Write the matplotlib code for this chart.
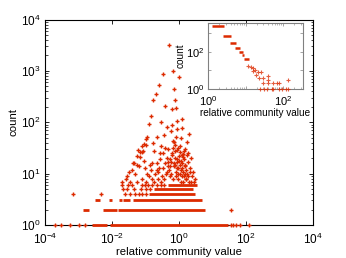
import numpy as np
import matplotlib
matplotlib.use('Agg')
import matplotlib.pyplot as plt
from matplotlib.ticker import LogLocator, NullLocator, FixedLocator

plt.rcParams['font.family'] = ['Liberation Sans', 'DejaVu Sans']
plt.rcParams['mathtext.fontset'] = 'custom'
plt.rcParams['mathtext.rm'] = 'Liberation Sans'
plt.rcParams['mathtext.it'] = 'Liberation Sans:italic'
plt.rcParams['mathtext.bf'] = 'Liberation Sans:bold'

RED = '#dc2a00'

# ---- main plot: scattered points (log10 of relative community value, count)
pts_logx = [-0.30, -0.47, -0.18, 0.00, -0.61, -0.14, -0.70, -0.78, -0.11, -0.41, -0.22, -0.09,
            -0.845, -0.90, -0.55, -0.37, -0.22, -0.07, 0.09, -0.25, -0.06, 0.10, 0.30, -0.96,
            -0.99, -0.44, -0.08, 0.07, -0.15, 0.23, -1.05, -1.11, -0.53, -0.19, 0.04, -1.17,
            -1.10, -0.75, -0.33, -0.05, 0.18, -1.24, -0.47, -0.22, 0.08, 0.25, -1.05, -0.57,
            -0.28, -1.34, -1.19, -0.87, -0.67, -0.42,
            -0.36, -0.30, -0.25, -0.20, -0.15, -0.12, -0.08, -0.05, -0.02, 0.00, 0.02, 0.04,
            0.06, 0.08, 0.10, 0.12, 0.14, 0.16, 0.18, 0.20, 0.24, 0.28, 0.33, 0.38, 0.42, 0.47,
            -0.10, -0.04, 0.05, 0.12, 0.22, 0.30, 0.36, 0.46, -0.40, -0.28, -0.18, 0.15, 0.27,
            -0.02, 0.03, -0.13, 0.37, -0.17, -0.12,
            -1.56, -1.41, -1.36, -1.26, -1.16, -1.07, -1.21, -0.99, -0.67, -0.77, -0.57, -0.42,
            -0.32, -0.82, -0.67, -0.52, -0.96, -1.26, -0.82, -0.37, -1.70, -1.58, -1.45, -1.12,
            -1.00, -0.90, -0.75, -0.62, -0.55, -0.45, -1.30, -1.50, -0.72, -0.60,
            -0.26, -0.16, -0.07, 0.01, 0.07, 0.13, 0.19, 0.26, 0.32, -0.33, -0.23, -0.11,
            -0.03, 0.09, 0.17, 0.21, -0.06, 0.11, -0.48, -0.64, -0.85, -1.02]
pts_count = [3150, 870, 1000, 760, 530, 455, 350, 270, 275, 205, 178, 190,
             130, 92, 100, 81, 89, 107, 115, 68, 74, 78, 59, 51,
             47, 56, 51, 49, 42, 42, 38, 35, 35, 32, 35, 26,
             26, 28, 30, 29, 30, 22, 25, 23, 23, 23, 18, 19,
             19, 16, 14, 15, 16, 16,
             20, 12, 17, 25, 14, 20, 11, 17, 13, 22, 15, 10,
             18, 13, 16, 11, 19, 9, 14, 12, 10, 17, 13, 9, 11, 8,
             9, 8, 7, 7, 8, 7, 7, 7, 10, 9, 8, 27, 25,
             32, 26, 28, 20, 44, 36,
             9, 12, 16, 15, 21, 27, 29, 36, 52, 39, 25, 31,
             17, 16, 12, 9, 10, 7, 8, 11, 7, 8, 7, 8,
             7, 9, 7, 8, 7, 8, 10, 11, 10, 13,
             14, 16, 13, 18, 12, 21, 15, 9, 11, 14, 10, 15,
             10, 9, 10, 8, 19, 24, 13, 11, 12, 13]

# low counts: isolated points
low_logx = [-3.70, -3.53, -3.25, -2.98, -2.81, 1.55, 1.62, 1.70, 1.82, 2.09,
            1.55,
            -3.15, -2.34, -1.61, -1.45, -1.30, -1.20, -1.10, -1.00,
            -1.68, -1.55, -1.35, -1.15, -1.00, -0.88,
            -1.70, -1.52, -1.41, -1.11, -1.01, -0.93, -0.80, -0.66, -0.55, -0.45]
low_count = [1, 1, 1, 1, 1, 1, 1, 1, 1, 1,
             2,
             4, 4, 4, 4, 4, 4, 4, 4,
             5, 5, 5, 5, 5, 5,
             6, 6, 6, 6, 6, 6, 6, 6, 6, 6]

# low counts: runs of points packed so close they form a bar
band_count = [1, 1, 2, 2, 2, 3, 3, 3, 3, 3, 4, 5, 6]
band_start = [-2.61, -2.05, -2.86, -2.27, -1.82, -2.51, -2.09, -1.78, -1.67, -1.37, -0.90, -0.75, -0.33]
band_end = [-2.16, 1.46, -2.68, -1.86, 0.78, -2.36, -2.00, -1.70, -1.46, 0.68, 0.48, 0.42, 0.54]

# ---- inset
in_band_count = [2630, 710, 310, 160, 100, 72, 40]
in_band_start = [0.10, 0.39, 0.59, 0.72, 0.83, 0.90, 0.97]
in_band_end = [0.43, 0.61, 0.74, 0.85, 0.92, 0.97, 1.09]
in_logx = [1.07, 1.14, 1.21, 1.25, 1.19, 1.32, 1.40, 1.27, 1.36, 1.47, 1.59, 1.61,
           1.59, 1.47, 1.74, 1.83, 1.89, 2.12,
           1.39, 1.48, 1.56, 1.70, 1.74, 1.88, 1.98, 2.07, 2.12]
in_count = [18, 15, 13, 11, 9, 8, 8, 6, 4, 4, 5, 3,
            2, 2, 2, 2, 2, 3,
            1, 1, 1, 1, 1, 1, 1, 1, 1]


def tenpow(v):
    return [r'$10^{%d}$' % int(round(np.log10(t))) for t in v]


fig = plt.figure(figsize=(3.46, 2.58), dpi=100)
ax = fig.add_axes([0.130, 0.128, 0.775, 0.796])

ax.hlines(band_count, 10 ** np.array(band_start), 10 ** np.array(band_end),
          colors=RED, linewidth=2.0, clip_on=False, zorder=3)
ax.plot(10 ** np.array(low_logx), low_count, '+', ms=2.3, mew=1.0, color=RED, clip_on=False, zorder=3)
ax.plot(10 ** np.array(pts_logx), pts_count, '+', ms=2.3, mew=1.0, color=RED, clip_on=False, zorder=3)

ax.set_xscale('log')
ax.set_yscale('log')
ax.set_xlim(1e-4, 1e4)
ax.set_ylim(1, 1e4)
xt = [1e-4, 1e-2, 1, 1e2, 1e4]
yt = [1, 10, 100, 1000, 1e4]
ax.xaxis.set_major_locator(FixedLocator(xt))
ax.xaxis.set_minor_locator(NullLocator())
ax.set_xticklabels(tenpow(xt))
ax.yaxis.set_major_locator(FixedLocator(yt))
ax.yaxis.set_minor_locator(LogLocator(base=10, subs=np.arange(2, 10)))
ax.set_yticklabels(tenpow(yt))
ax.tick_params(which='both', direction='in', top=True, right=True, labelsize=8.5)
ax.tick_params(axis='x', pad=5)
ax.tick_params(axis='y', pad=3)
ax.tick_params(which='major', length=3, width=0.6)
ax.tick_params(which='minor', length=1.8, width=0.5)
for s in ax.spines.values():
    s.set_linewidth(0.8)
ax.set_xlabel('relative community value', fontsize=8.2, labelpad=0)
ax.set_ylabel('count', fontsize=8.2, labelpad=2)

# inset
ins = fig.add_axes([0.601, 0.655, 0.275, 0.256])
ins.hlines(in_band_count, 10 ** np.array(in_band_start), 10 ** np.array(in_band_end),
           colors=RED, linewidth=1.8, clip_on=False, zorder=3)
ins.plot(10 ** np.array(in_logx), in_count, '+', ms=2.2, mew=0.8, color=RED, alpha=0.75,
         clip_on=False, zorder=3)
ins.set_xscale('log')
ins.set_yscale('log')
ins.set_xlim(1, 340)
ins.set_ylim(1, 3700)
ins.xaxis.set_major_locator(FixedLocator([1, 10, 100]))
ins.set_xticklabels([r'$10^{0}$', '', r'$10^{2}$'])
ins.xaxis.set_minor_locator(LogLocator(base=10, subs=np.arange(2, 10)))
ins.yaxis.set_major_locator(FixedLocator([1, 10, 100, 1000]))
ins.set_yticklabels([r'$10^{0}$', '', r'$10^{2}$', ''])
ins.yaxis.set_minor_locator(NullLocator())
ins.tick_params(which='both', direction='in', top=True, right=True, labelsize=8,
                color='0.5')
ins.tick_params(axis='x', pad=3.5)
ins.tick_params(axis='y', pad=2.5)
ins.tick_params(which='major', length=2.5, width=0.5)
ins.tick_params(which='minor', length=1.5, width=0.4)
for s in ins.spines.values():
    s.set_linewidth(0.8)
    s.set_color('0.5')
ins.set_xlabel('relative community value', fontsize=7.2, labelpad=0)
ins.set_ylabel('count', fontsize=7.2, labelpad=0)

plt.savefig('out.png', dpi=100)
